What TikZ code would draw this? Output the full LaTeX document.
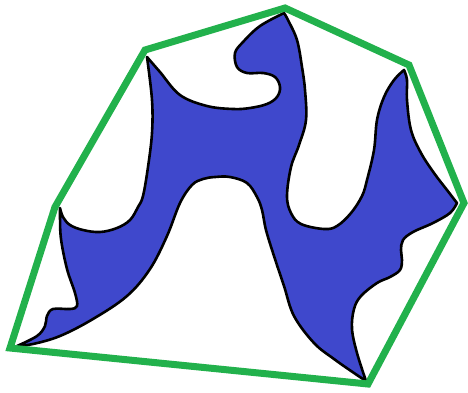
\documentclass[tikz,border=0pt]{standalone}
\definecolor{paintgreen}{RGB}{34,177,76}
\definecolor{paintblue}{RGB}{63,72,204}
\tikzset{
  hull/.style={draw=paintgreen, line width=7pt, line join=miter},
  blob/.style={fill=paintblue, draw=black, line width=2.6pt, line join=round},
}
\begin{document}
\begin{tikzpicture}[x=1pt,y=-1pt]
\useasboundingbox (0,0) rectangle (468,392);
% blue shape
\path[blob] (147,57)
  -- plot[smooth,tension=0.6] coordinates {(147,57) (160,72) (180,95) (207,106) (233,109) (250,108) (267,104) (277,97) (280,87) (275,77) (263,73) (247,73) (237,67) (235,53) (243,42) (260,26) (284,13)}
  -- plot[smooth,tension=0.6] coordinates {(284,13) (288,20) (297,40) (302,67) (305,90) (306,120) (299,145) (291,167) (287,196) (291,213) (301,224) (324,229) (337,226) (351,213) (362,196) (367,180) (374,150) (377,120) (384,97) (394,80) (404,70)}
  -- plot[smooth,tension=0.6] coordinates {(404,70) (407,80) (407,100) (411,130) (421,153) (434,173) (447,190) (457,203)}
  -- plot[smooth,tension=0.6] coordinates {(457,203) (450,213) (433,223) (413,232) (403,240) (401,250) (402,260) (400,270) (390,277) (377,283) (361,296) (354,309) (352,329) (357,353) (366,381)}
  -- plot[smooth,tension=0.6] coordinates {(366,381) (354,373) (334,359) (314,343) (294,316) (284,286) (274,256) (266,230) (262,210) (257,197) (247,183) (230,177) (215,177) (203,179) (192,185) (180,203) (167,236) (150,269) (127,296) (93,319) (60,336) (33,344) (17,346)}
  -- plot[smooth,tension=0.6] coordinates {(17,346) (37,336) (45,326) (47,316) (53,309) (70,309) (77,306) (75,293) (67,269) (61,239) (60,216) (60,208)}
  -- plot[smooth,tension=0.6] coordinates {(60,208) (63,217) (70,225) (83,230) (100,232) (117,228) (130,220) (138,207) (143,196) (148,167) (152,133) (152,100) (147,57)}
  -- cycle;
% green hull
\coordinate (p1) at (145,50);
\coordinate (p2) at (285,8);
\coordinate (p3) at (409,65);
\coordinate (p4) at (464,203);
\coordinate (p5) at (368,384);
\coordinate (p6) at (10,348);
\coordinate (p7) at (55,207);
\draw[hull] (p1) -- (p2) -- (p3) -- (p4) -- (p5) -- (p6) -- (p7) -- cycle;
\end{tikzpicture}
\end{document}
